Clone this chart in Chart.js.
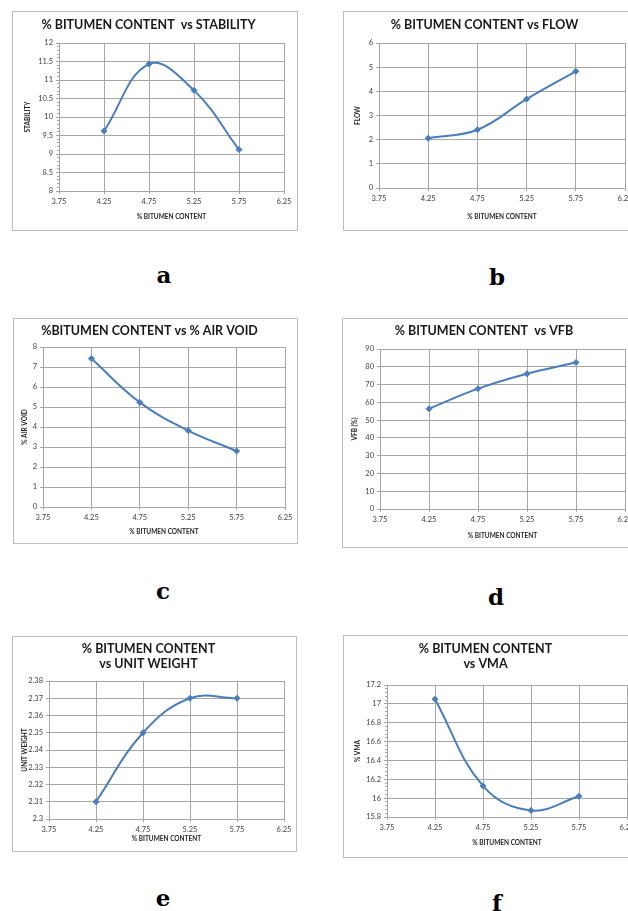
<!DOCTYPE html>
<html lang="en">
<head>
    <meta charset="UTF-8">
    <title>Bitumen Content Charts</title>
    <style>
        body {
            margin: 0;
            background-color: #ffffff;
            width: 628px;
            height: 911px;
            position: relative;
            overflow: hidden;
        }
        .panel {
            position: absolute;
            border: 1px solid #bdbdbd;
            box-sizing: border-box;
            background-color: #ffffff;
        }
        .panel canvas {
            position: absolute;
            left: 0;
            top: 0;
        }
        .caption {
            position: absolute;
            width: 40px;
            margin-left: -20px;
            text-align: center;
            font-family: 'DejaVu Serif', serif;
            font-weight: bold;
            font-size: 23px;
            line-height: 23px;
            color: #000000;
        }
    </style>
    <script src="https://cdn.jsdelivr.net/npm/chart.js"></script>
</head>
<body>
    <script>
        // x axis: % bitumen content
        const bitumenContent = [4.25, 4.75, 5.25, 5.75];
        const xMin = 3.75, xMax = 6.25, xStep = 0.5;

        const stability = [9.62, 11.43, 10.72, 9.12];
        const flow = [2.06, 2.41, 3.68, 4.83];
        const airVoid = [7.42, 5.23, 3.82, 2.8];
        const vfb = [56.4, 67.7, 76.1, 82.4];
        const unitWeight = [2.31, 2.35, 2.37, 2.37];
        const vma = [17.05, 16.13, 15.87, 16.02];

        const lineColor = '#4a7ebb';
        const gridColor = '#a6a6a6';
        const tickColor = '#404040';

        // Excel style labels: 3.75, 12, 11.5, 2.3 ...
        const plainNumber = v => String(parseFloat(Number(v).toFixed(4)));

        // box = [left, top, right, bottom] of the frame, plot = [left, right, top, bottom]
        const panels = [
            { caption: 'a', capX: 164, capY: 263, title: '% BITUMEN CONTENT  vs STABILITY', yTitle: 'STABILITY',
              values: stability, yMin: 8, yMax: 12, yStep: 0.5, yMinor: 0.1,
              box: [12, 11, 298, 231], plot: [59, 284, 43, 191], titleY: 25, yTitleX: 28, xTitleY: 217 },
            { caption: 'b', capX: 497, capY: 265, title: '% BITUMEN CONTENT vs FLOW', yTitle: 'FLOW',
              values: flow, yMin: 0, yMax: 6, yStep: 1,
              box: [343, 11, 639, 231], plot: [379, 625, 43, 188], titleY: 25, yTitleX: 358, xTitleY: 217 },
            { caption: 'c', capX: 163, capY: 579, title: '%BITUMEN CONTENT vs % AIR VOID', yTitle: '% AIR VOID',
              values: airVoid, yMin: 0, yMax: 8, yStep: 1,
              box: [13, 318, 298, 544], plot: [43, 285, 347, 507], titleY: 331, yTitleX: 25, xTitleY: 532 },
            { caption: 'd', capX: 496, capY: 585, title: '% BITUMEN CONTENT  vs VFB', yTitle: 'VFB (%)',
              values: vfb, yMin: 0, yMax: 90, yStep: 10,
              box: [342, 318, 640, 548], plot: [380, 625, 349, 509], titleY: 331, yTitleX: 355, xTitleY: 536 },
            { caption: 'e', capX: 163, capY: 886, title: ['% BITUMEN CONTENT', 'vs UNIT WEIGHT'], yTitle: 'UNIT WEIGHT',
              values: unitWeight, yMin: 2.3, yMax: 2.38, yStep: 0.01,
              box: [12, 636, 297, 852], plot: [49, 284, 681, 819], titleY: 649, yTitleX: 25, xTitleY: 839 },
            { caption: 'f', capX: 497, capY: 891, title: ['% BITUMEN CONTENT', 'vs VMA'], yTitle: '% VMA',
              values: vma, yMin: 15.8, yMax: 17.2, yStep: 0.2, yMinor: 0.04,
              box: [343, 635, 639, 858], plot: [387, 627, 685, 817], titleY: 649, yTitleX: 358, xTitleY: 843 }
        ];

        function buildPanel(p) {
            const [bl, bt, br, bb] = p.box;
            const [pl, pr, pt, pb] = p.plot;
            const wrap = document.createElement('div');
            wrap.className = 'panel';
            wrap.style.left = bl + 'px';
            wrap.style.top = bt + 'px';
            wrap.style.width = (br - bl) + 'px';
            wrap.style.height = (bb - bt) + 'px';
            const canvas = document.createElement('canvas');
            const cw = br - bl - 2, ch = bb - bt - 2;
            canvas.width = cw;
            canvas.height = ch;
            canvas.style.width = cw + 'px';
            canvas.style.height = ch + 'px';
            wrap.appendChild(canvas);
            document.body.appendChild(wrap);

            // canvas origin in page coordinates
            const ox = bl + 1, oy = bt + 1;
            const titleLH = 15;
            const lines = Array.isArray(p.title) ? p.title.length : 1;
            const titlePadTop = p.titleY - oy - titleLH / 2;
            const titlePadBottom = (pt - oy) - titlePadTop - titleLH * lines;
            const axisLH = 7.5;

            const scales = {
                x: {
                    type: 'linear',
                    min: xMin,
                    max: xMax,
                    ticks: {
                        stepSize: xStep,
                        autoSkip: false,
                        maxRotation: 0,
                        padding: 3,
                        color: tickColor,
                        font: { family: 'Lato', size: 7.5 },
                        callback: plainNumber
                    },
                    grid: { color: gridColor, tickLength: 3, lineWidth: 1 },
                    border: { color: gridColor },
                    title: {
                        display: true,
                        text: '% BITUMEN CONTENT',
                        color: '#262626',
                        font: { family: 'Lato', size: 6.5, weight: 'bold', lineHeight: axisLH / 6.5 },
                        padding: { top: 0, bottom: (oy + ch) - p.xTitleY - axisLH / 2 }
                    },
                    afterFit: s => { s.height = (oy + ch) - pb; }
                },
                y: {
                    min: p.yMin,
                    max: p.yMax,
                    weight: 1,
                    ticks: {
                        stepSize: p.yStep,
                        autoSkip: false,
                        padding: 3,
                        color: tickColor,
                        font: { family: 'Lato', size: 7.5 },
                        callback: plainNumber
                    },
                    grid: { color: gridColor, tickLength: 3, lineWidth: 1 },
                    border: { color: gridColor },
                    title: {
                        display: true,
                        text: p.yTitle,
                        color: '#262626',
                        font: { family: 'Lato', size: 6.5, weight: 'bold', lineHeight: axisLH / 6.5 },
                        padding: { top: p.yTitleX - ox - axisLH / 2, bottom: 0 }
                    },
                    afterFit: s => { s.width = pl - ox; }
                }
            };
            if (p.yMinor) {
                scales.yMinor = {
                    position: 'left',
                    weight: 0,
                    min: p.yMin,
                    max: p.yMax,
                    ticks: { display: false, stepSize: p.yMinor, autoSkip: false },
                    grid: { drawOnChartArea: false, drawTicks: true, tickLength: 2, color: gridColor },
                    border: { display: false },
                    afterFit: s => { s.width = 0; }
                };
            }

            new Chart(canvas, {
                type: 'line',
                data: {
                    datasets: [{
                        data: bitumenContent.map((x, i) => ({ x: x, y: p.values[i] })),
                        borderColor: lineColor,
                        backgroundColor: lineColor,
                        borderWidth: 2,
                        tension: 0.4,
                        pointStyle: 'rectRot',
                        pointRadius: 3,
                        pointBorderWidth: 1,
                        fill: false
                    }]
                },
                options: {
                    responsive: false,
                    animation: false,
                    devicePixelRatio: 1,
                    layout: {
                        padding: { left: 0, top: 0, bottom: 0, right: (ox + cw) - pr }
                    },
                    plugins: {
                        legend: { display: false },
                        tooltip: { enabled: false },
                        title: {
                            display: true,
                            text: p.title,
                            color: '#1a1a1a',
                            font: { family: 'Lato', size: 12.5, weight: 'bold', lineHeight: titleLH / 12.5 },
                            padding: { top: titlePadTop, bottom: titlePadBottom }
                        }
                    },
                    scales: scales
                }
            });

            const cap = document.createElement('div');
            cap.className = 'caption';
            cap.textContent = p.caption;
            cap.style.left = p.capX + 'px';
            cap.style.top = p.capY + 'px';
            document.body.appendChild(cap);
        }

        panels.forEach(buildPanel);
    </script>
</body>
</html>
